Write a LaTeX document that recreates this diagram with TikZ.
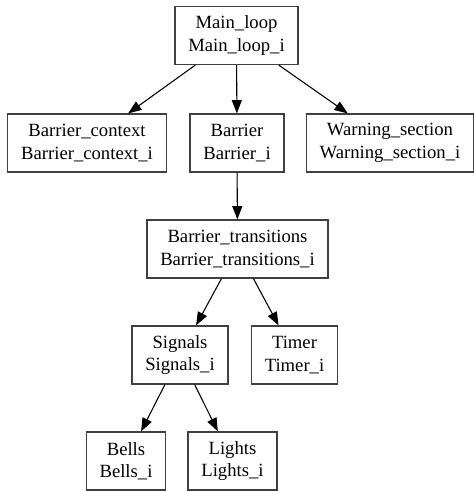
\documentclass[tikz,border=0pt]{standalone}
\usepackage{fontspec}
\setmainfont{Liberation Serif}
\usetikzlibrary{arrows.meta,positioning}

\begin{document}
\begin{tikzpicture}[
  x=0.75pt, y=-0.75pt,
  mod/.style={rectangle,draw=black!75,line width=0.9pt,align=center,
              inner xsep=10pt,minimum height=43.5pt,
              font=\fontsize{14}{16.8}\selectfont},
  arr/.style={-{Triangle[length=10pt,width=7.5pt]},line width=0.8pt}
]
  \useasboundingbox (0,0) rectangle (474,492);
  % top level
  \node[mod] (main)  at (236.5,35.5) {Main\_loop\\Main\_loop\_i};
  % second row
  \node[mod] (bctx)  at (87,143)     {Barrier\_context\\Barrier\_context\_i};
  \node[mod] (bar)   at (237,143)    {Barrier\\Barrier\_i};
  \node[mod] (warn)  at (390,143)    {Warning\_section\\Warning\_section\_i};
  % barrier internals
  \node[mod] (btr)   at (237.5,249)  {Barrier\_transitions\\Barrier\_transitions\_i};
  \node[mod] (sig)   at (180,355)    {Signals\\Signals\_i};
  \node[mod] (tim)   at (294.5,355)  {Timer\\Timer\_i};
  \node[mod] (bell)  at (126,461)    {Bells\\Bells\_i};
  \node[mod] (light) at (232.5,461)  {Lights\\Lights\_i};

  \draw[arr] (main)--(bctx);
  \draw[arr] (main)--(bar);
  \draw[arr] (main)--(warn);
  \draw[arr] (bar)--(btr);
  \draw[arr] (btr)--(sig);
  \draw[arr] (btr)--(tim);
  \draw[arr] (sig)--(bell);
  \draw[arr] (sig)--(light);
\end{tikzpicture}
\end{document}
